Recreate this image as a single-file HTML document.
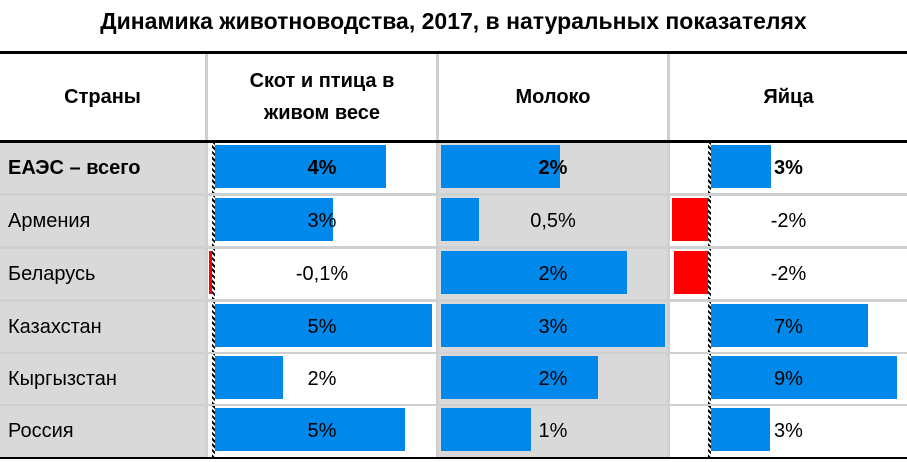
<!DOCTYPE html><html><head><meta charset="utf-8"><style>
body{margin:0;width:907px;height:462px;background:#fff;position:relative;overflow:hidden;font-family:"Liberation Sans","DejaVu Sans",sans-serif;}
div{position:absolute;box-sizing:border-box}
.t{font-size:20px;color:#000;display:flex;align-items:center;justify-content:center;white-space:nowrap}
.b{background:#0088ea}.r{background:#ff0000}
.ax{width:3px;background:repeating-linear-gradient(45deg,#000 0 2px,#fff 2px 4px)}
</style></head><body>
<div class="t" style="left:0;top:0;width:907px;height:42px;font-size:23px;font-weight:bold">Динамика животноводства, 2017, в натуральных показателях</div>
<div style="left:0;top:51px;width:907px;height:3px;background:#000"></div>
<div style="left:205px;top:54px;width:3px;height:86px;background:#d0d0d0"></div>
<div style="left:436px;top:54px;width:3px;height:86px;background:#d0d0d0"></div>
<div style="left:667px;top:54px;width:3px;height:86px;background:#d0d0d0"></div>
<div class="t" style="left:0;top:54px;width:205px;height:86px;font-weight:bold">Страны</div>
<div class="t" style="left:208px;top:54px;width:228px;height:86px;font-weight:bold;white-space:normal;text-align:center;line-height:32px;padding:0 16px">Скот и птица в живом весе</div>
<div class="t" style="left:439px;top:54px;width:228px;height:86px;font-weight:bold">Молоко</div>
<div class="t" style="left:670px;top:54px;width:237px;height:86px;font-weight:bold">Яйца</div>
<div style="left:0;top:140px;width:907px;height:3px;background:#000"></div>
<div style="left:0;top:143px;width:907px;height:314px;background:#d0d0d0"></div>
<div style="left:0;top:457px;width:907px;height:2px;background:#000"></div>
<div id="rows"></div>
<script>
var rows=[["ЕАЭС – всего",1,[0,386],"4%",[0,560],"2%",[0,771],"3%"],
["Армения",0,[0,333],"3%",[0,479],"0,5%",[672,0],"-2%"],
["Беларусь",0,[209,0],"-0,1%",[0,627],"2%",[674,0],"-2%"],
["Казахстан",0,[0,432],"5%",[0,665],"3%",[0,868],"7%"],
["Кыргызстан",0,[0,283],"2%",[0,598],"2%",[0,897],"9%"],
["Россия",0,[0,405],"5%",[0,531],"1%",[0,770],"3%"]];
var tops=[143,196,249,302,354,406],h='';
rows.forEach(function(r,i){var y=tops[i],ht=(i==5?51:50);
var fw=r[1]?'font-weight:bold;':'';
h+='<div style="left:0;top:'+y+'px;width:205px;height:'+ht+'px;background:#d9d9d9"></div>';
h+='<div style="left:208px;top:'+y+'px;width:228px;height:'+ht+'px;background:#fff"></div>';
h+='<div style="left:439px;top:'+y+'px;width:228px;height:'+ht+'px;background:#d9d9d9"></div>';
h+='<div style="left:670px;top:'+y+'px;width:237px;height:'+ht+'px;background:#fff"></div>';
h+='<div class="t" style="left:8px;top:'+y+'px;height:'+ht+'px;justify-content:flex-start;'+fw+'">'+r[0]+'</div>';
var bt=y+2,bh=43;
function bar(ax,b){if(b[1])return '<div class="b" style="left:'+(ax+2)+'px;top:'+bt+'px;width:'+(b[1]-ax-2)+'px;height:'+bh+'px"></div>';
return '<div class="r" style="left:'+b[0]+'px;top:'+bt+'px;width:'+(ax-b[0])+'px;height:'+bh+'px"></div>';}
h+=bar(213,r[2]);h+=bar(439,r[4]);h+=bar(709,r[6]);
h+='<div class="ax" style="left:212px;top:'+y+'px;height:'+ht+'px"></div>';
h+='<div class="ax" style="left:708px;top:'+y+'px;height:'+ht+'px"></div>';
h+='<div class="t" style="left:208px;top:'+y+'px;width:228px;height:'+ht+'px;'+fw+'">'+r[3]+'</div>';
h+='<div class="t" style="left:439px;top:'+y+'px;width:228px;height:'+ht+'px;'+fw+'">'+r[5]+'</div>';
h+='<div class="t" style="left:670px;top:'+y+'px;width:237px;height:'+ht+'px;'+fw+'">'+r[7]+'</div>';
});
document.getElementById('rows').innerHTML=h;
</script>
</body></html>
